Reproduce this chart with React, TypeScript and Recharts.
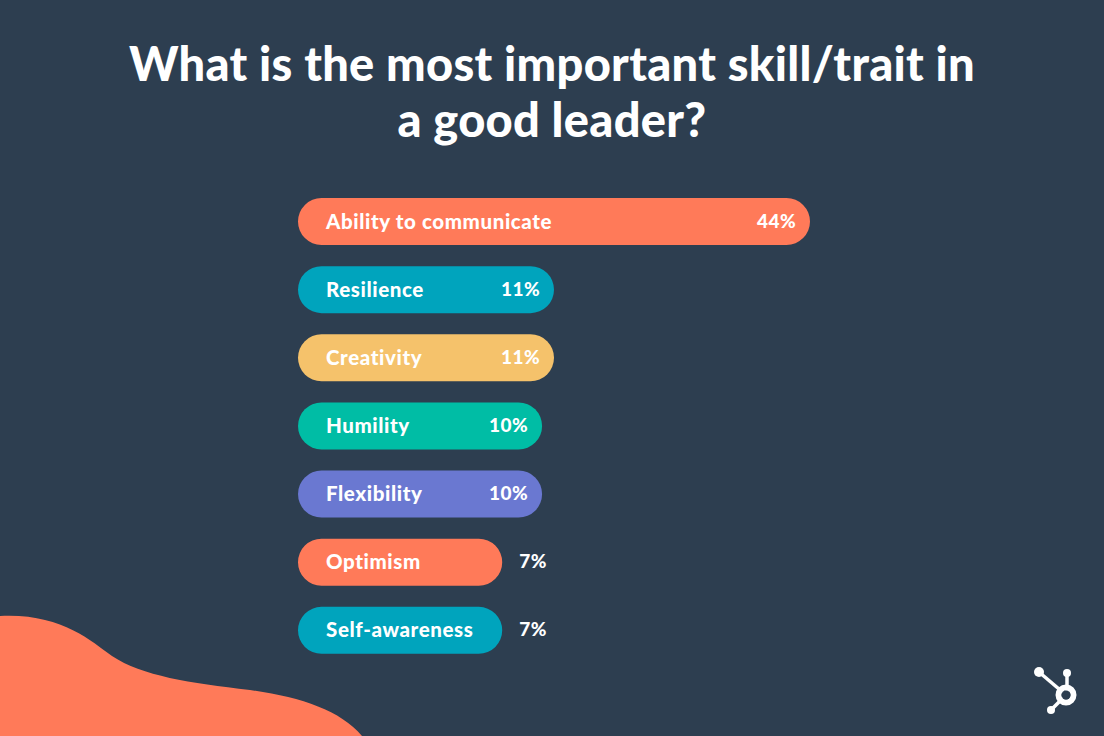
import React from 'react';
import { BarChart, Bar, XAxis, YAxis, Cell, LabelList } from 'recharts';

const categories = ['Ability to communicate', 'Resilience', 'Creativity', 'Humility', 'Flexibility', 'Optimism', 'Self-awareness'];
const shares = [44, 11, 11, 10, 10, 7, 7];
const barColors = ['#ff7a59', '#00a4bd', '#f5c26b', '#00bda5', '#6a78d1', '#ff7a59', '#00a4bd'];
const titleLines = ['What is the most important skill/trait in', 'a good leader?'];

const data = categories.map((name, i) => ({ name, value: shares[i] }));

const FONT = 'Lato, "Open Sans", sans-serif';

const NameLabel = (props: any) => {
  const { x, y, height, value } = props;
  return (
    <text x={x + 28} y={y + height / 2} dy={7} fill="#ffffff" fontFamily={FONT} fontWeight={900} fontSize={20.5} letterSpacing={0.6}>
      {value}
    </text>
  );
};

const PctLabel = (props: any) => {
  const { x, y, width, height, value } = props;
  const inside = value >= 10;
  return (
    <text
      x={inside ? x + width - 14 : x + width + 17}
      y={y + height / 2}
      dy={6}
      textAnchor={inside ? 'end' : 'start'}
      fill="#ffffff"
      fontFamily={FONT}
      fontWeight={900}
      fontSize={19}
      letterSpacing={0.4}
    >
      {value}%
    </text>
  );
};

export default function App() {
  return (
    <div style={{ position: 'relative', width: 1104, height: 736, background: '#2d3e50', overflow: 'hidden' }}>
      <style>{`body{margin:0}`}</style>
      <svg width={1104} height={736} style={{ position: 'absolute', left: 0, top: 0 }}>
        <path d="M0,616 C60,613 90,640 112,656 C142,676 190,683 250,690 C300,697 340,710 362,736 L0,736 Z" fill="#ff7a59" />
        <g fill="#ffffff" stroke="#ffffff">
          <line x1={1039} y1={672} x2={1066} y2={695} strokeWidth={3.5} />
          <line x1={1067} y1={673} x2={1067} y2={695} strokeWidth={3.5} />
          <line x1={1051} y1={710} x2={1066} y2={695} strokeWidth={3.5} />
          <circle cx={1039} cy={672} r={5} stroke="none" />
          <circle cx={1067} cy={673} r={4} stroke="none" />
          <circle cx={1051} cy={710} r={4} stroke="none" />
          <circle cx={1066} cy={695} r={7.5} fill="none" strokeWidth={6} />
        </g>
        <circle cx={1066} cy={695} r={4.5} fill="#2d3e50" />
      </svg>
      <div
        style={{
          position: 'absolute',
          left: 0,
          top: 35,
          width: 1104,
          textAlign: 'center',
          color: '#ffffff',
          fontFamily: FONT,
          fontWeight: 900,
          fontSize: 47,
          letterSpacing: 0.3,
          lineHeight: '56px',
        }}
      >
        {titleLines.map((t) => (
          <div key={t}>{t}</div>
        ))}
      </div>
      <div style={{ position: 'absolute', left: 0, top: 0 }}>
        <BarChart width={1104} height={736} data={data} layout="vertical" margin={{ top: 187, right: 294, bottom: 72, left: 298 }}>
          <XAxis type="number" hide domain={[0, 44]} scale="sqrt" />
          <YAxis type="category" dataKey="name" hide />
          <Bar dataKey="value" barSize={47} radius={23.5} isAnimationActive={false}>
            {data.map((d, i) => (
              <Cell key={d.name} fill={barColors[i]} />
            ))}
            <LabelList dataKey="name" content={NameLabel} />
            <LabelList dataKey="value" content={PctLabel} />
          </Bar>
        </BarChart>
      </div>
    </div>
  );
}
